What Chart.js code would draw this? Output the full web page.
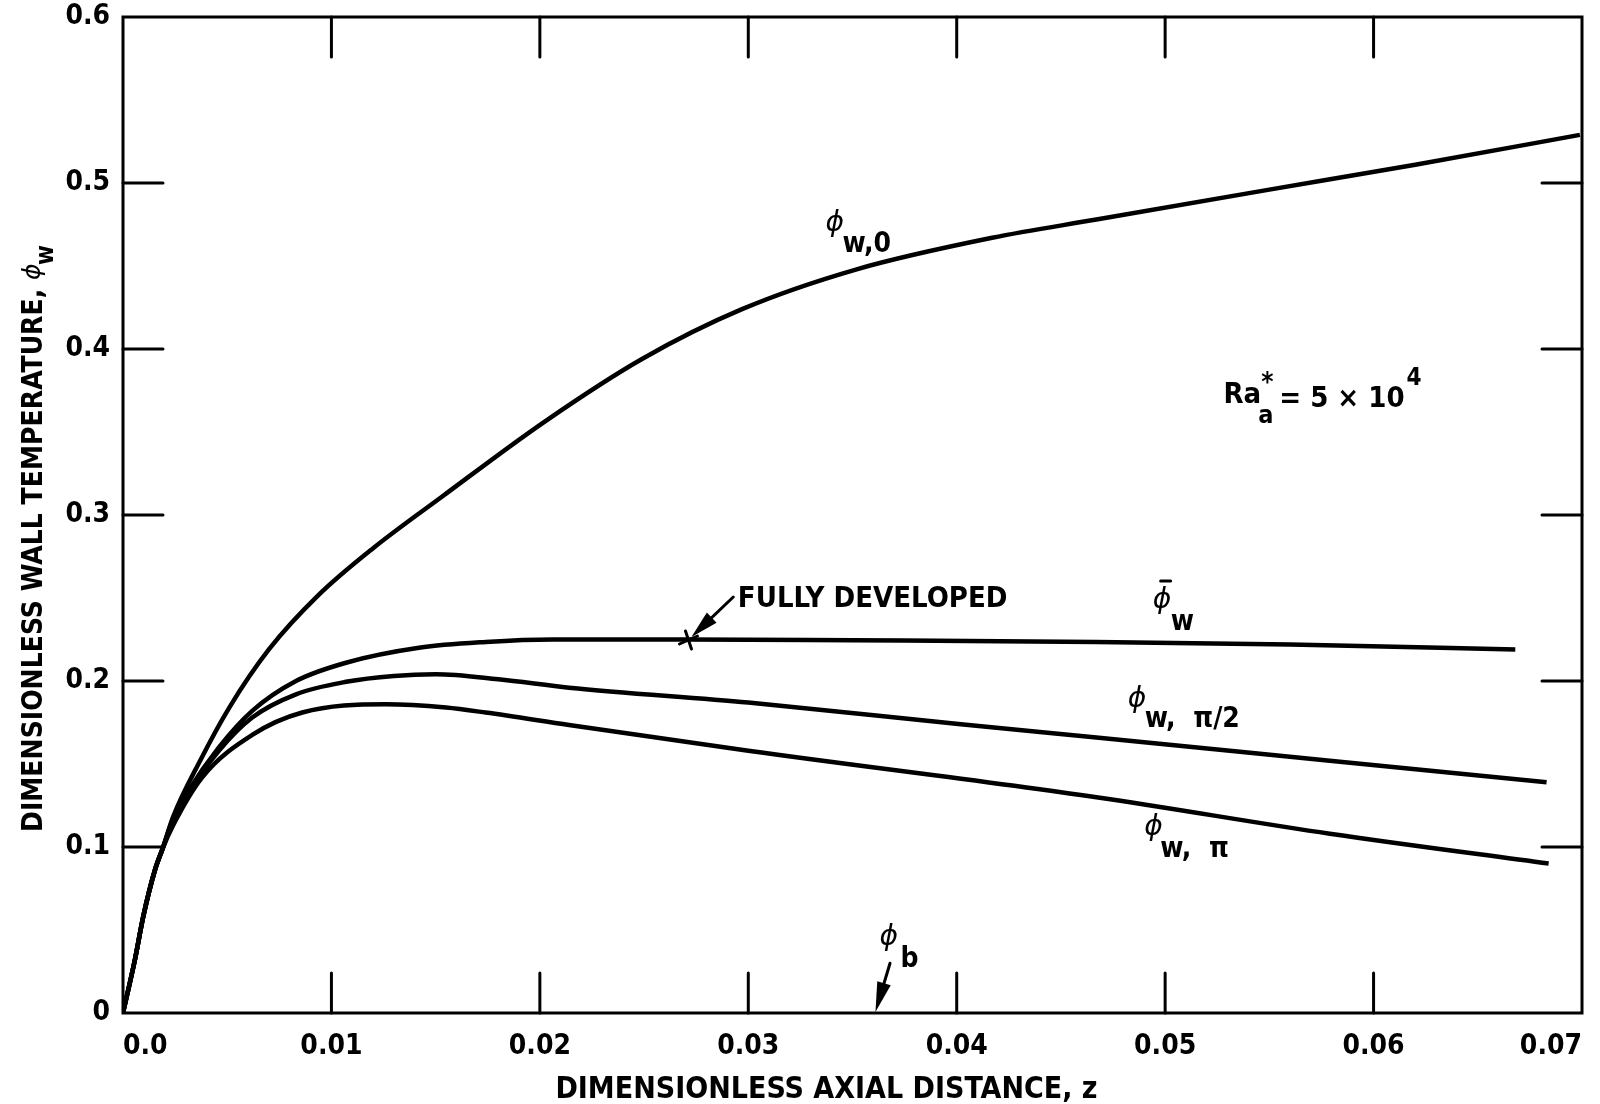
<!DOCTYPE html>
<html>
<head>
<meta charset="utf-8">
<script src="https://cdn.jsdelivr.net/npm/chart.js@4.4.1/dist/chart.umd.min.js"></script>
<style>
  html, body { margin: 0; padding: 0; background: #fff; }
  #wrap { width: 1600px; height: 1104px; }
</style>
</head>
<body>
<div id="wrap"><canvas id="chart" width="1600" height="1104"></canvas></div>
<script>
// values (z, phi)
var zPhi0 = [0, 0.00057, 0.00097, 0.00153, 0.0019, 0.0024, 0.0037, 0.0051, 0.0070, 0.0094, 0.0120, 0.0153, 0.0202, 0.0249, 0.0297, 0.0352, 0.0417, 0.0467, 0.0550, 0.0620, 0.0699];
var phi0 = [0, 0.032, 0.058, 0.086, 0.099, 0.118, 0.152, 0.184, 0.219, 0.252, 0.280, 0.311, 0.356, 0.394, 0.424, 0.448, 0.467, 0.478, 0.496, 0.511, 0.529];

var zPhiMean = [0, 0.00057, 0.00097, 0.00153, 0.0019, 0.0024, 0.0031, 0.0046, 0.0062, 0.0083, 0.0107, 0.0142, 0.0174, 0.0206, 0.0271, 0.0350, 0.0467, 0.0560, 0.0668];
var phiMean = [0, 0.032, 0.058, 0.086, 0.099, 0.117, 0.133, 0.160, 0.182, 0.200, 0.211, 0.220, 0.2235, 0.225, 0.225, 0.2245, 0.2235, 0.222, 0.219];

var zPhiHalfPi = [0, 0.00057, 0.00097, 0.00153, 0.0019, 0.0024, 0.0031, 0.0046, 0.0062, 0.0083, 0.0107, 0.0130, 0.0150, 0.0180, 0.0214, 0.0300, 0.0402, 0.0467, 0.0579, 0.0683];
var phiHalfPi = [0, 0.032, 0.058, 0.086, 0.099, 0.116, 0.132, 0.158, 0.178, 0.192, 0.1995, 0.203, 0.204, 0.201, 0.196, 0.187, 0.174, 0.166, 0.152, 0.139];

var zPhiPi = [0, 0.00057, 0.00097, 0.00153, 0.0019, 0.0024, 0.0038, 0.0062, 0.0086, 0.0126, 0.0155, 0.0174, 0.0214, 0.0300, 0.0467, 0.0579, 0.0684];
var phiPi = [0, 0.032, 0.058, 0.086, 0.099, 0.113, 0.142, 0.1675, 0.181, 0.186, 0.184, 0.181, 0.1735, 0.158, 0.130, 0.108, 0.090];

var xTickLabels = ['0.0', '0.01', '0.02', '0.03', '0.04', '0.05', '0.06', '0.07'];
var yTickLabels = ['0', '0.1', '0.2', '0.3', '0.4', '0.5', '0.6'];
var xTickMarks = [0.01, 0.02, 0.03, 0.04, 0.05, 0.06];
var yTickMarks = [0.1, 0.2, 0.3, 0.4, 0.5];

// where the notes sit, in data units
var fullyDevelopedAt = { z: 0.02713, phi: 0.2247 };
var bulkArrowAt = { z: 0.0361, phi: 0.0006 };

var FAMILY = '"DejaVu Sans Condensed", "DejaVu Sans", sans-serif';
function bold(n) { return 'bold ' + n + 'px ' + FAMILY; }
function greek(n) { return 'italic ' + n + 'px "DejaVu Sans", sans-serif'; }

function pairs(xs, ys) {
  return xs.map(function(x, i) { return { x: x, y: ys[i] }; });
}

function curve(xs, ys) {
  return {
    data: pairs(xs, ys),
    showLine: true,
    borderColor: '#000',
    borderWidth: 4.5,
    pointRadius: 0,
    cubicInterpolationMode: 'monotone',
    fill: false
  };
}

function arrow(c, x1, y1, x2, y2, head, half) {
  var ang = Math.atan2(y2 - y1, x2 - x1);
  c.beginPath();
  c.moveTo(x1, y1);
  c.lineTo(x2 - Math.cos(ang) * head * 0.6, y2 - Math.sin(ang) * head * 0.6);
  c.stroke();
  c.beginPath();
  c.moveTo(x2, y2);
  c.lineTo(x2 - Math.cos(ang) * head - Math.sin(ang) * half, y2 - Math.sin(ang) * head + Math.cos(ang) * half);
  c.lineTo(x2 - Math.cos(ang) * head + Math.sin(ang) * half, y2 - Math.sin(ang) * head - Math.cos(ang) * half);
  c.closePath();
  c.fill();
}

var paper = {
  id: 'paper',
  afterDraw: function(chart) {
    var c = chart.ctx, a = chart.chartArea;
    var xs = chart.scales.x, ys = chart.scales.y;
    function px(z) { return xs.getPixelForValue(z); }
    function py(v) { return ys.getPixelForValue(v); }
    function seg(x1, y1, x2, y2) { c.beginPath(); c.moveTo(x1, y1); c.lineTo(x2, y2); c.stroke(); }
    function txt(s, x, y, font) { c.font = font; c.fillText(s, x, y); return c.measureText(s).width; }

    c.save();
    c.strokeStyle = '#000';
    c.fillStyle = '#000';
    c.lineCap = 'round';
    c.textBaseline = 'alphabetic';
    c.textAlign = 'left';

    // frame and inward ticks on all four sides
    c.lineWidth = 3;
    c.strokeRect(a.left, a.top, a.right - a.left, a.bottom - a.top);
    var len = 40;
    xTickMarks.forEach(function(z) {
      var x = px(z);
      seg(x, a.bottom, x, a.bottom - len);
      seg(x, a.top, x, a.top + len);
    });
    yTickMarks.forEach(function(v) {
      var y = py(v);
      seg(a.left, y, a.left + len, y);
      seg(a.right, y, a.right - len, y);
    });

    // axis titles
    c.font = bold(30);
    c.textAlign = 'center';
    c.fillText('DIMENSIONLESS AXIAL DISTANCE, z', (a.left + a.right) / 2 - 26, a.bottom + 85);
    c.textAlign = 'left';
    c.save();
    c.translate(42, 832);
    c.rotate(-Math.PI / 2);
    var w = txt('DIMENSIONLESS WALL TEMPERATURE, ', 0, 0, bold(28));
    txt('\u03d5', w, -2, greek(25));
    txt('w', w + 15, 11, bold(24));
    c.restore();

    // curve labels: phi glyph, then subscript
    var x, y;
    x = px(0.0337); y = py(0.468);
    txt('\u03d5', x, y - 5, greek(28));
    txt('w,0', x + 17, y + 16, bold(28));

    x = px(0.0494); y = py(0.241);
    txt('\u03d5', x, y - 5, greek(28));
    c.lineWidth = 3;
    seg(x + 8, y - 32, x + 18, y - 32);
    txt('w', x + 18, y + 17, bold(28));

    x = px(0.0482); y = py(0.1813);
    txt('\u03d5', x, y - 5, greek(28));
    txt('w,  \u03c0/2', x + 17, y + 15, bold(28));

    x = px(0.0490); y = py(0.1042);
    txt('\u03d5', x, y - 5, greek(28));
    txt('w,  \u03c0', x + 16, y + 17, bold(28));

    // Rayleigh number note
    x = px(0.0528); y = py(0.3675);
    w = txt('Ra', x, y, bold(29));
    txt('a', x + w - 3, y + 20, bold(25));
    txt('*', x + w, y - 12, bold(26));
    var w2 = txt('= 5 \u00d7 10', x + w + 18, y + 4, bold(29));
    txt('4', x + w + 18 + w2 + 2, y - 18, bold(24));

    // fully developed point
    var fx = px(fullyDevelopedAt.z), fy = py(fullyDevelopedAt.phi);
    txt('FULLY DEVELOPED', px(0.0295), py(0.2446), bold(29));
    c.lineWidth = 3;
    arrow(c, px(0.02928), py(0.2506), fx + 3, fy - 3, 28, 7);
    seg(fx - 9, fy + 4, fx + 9, fy - 4);
    seg(fx - 3, fy - 9, fx + 3, fy + 9);

    // bulk temperature arrow
    var bx = px(bulkArrowAt.z), by = py(bulkArrowAt.phi);
    x = px(0.0363); y = py(0.038);
    txt('\u03d5', x, y - 5, greek(28));
    txt('b', x + 21, y + 17, bold(28));
    arrow(c, px(0.0368), py(0.030), bx, by, 30, 7);

    c.restore();
  }
};

var ctx = document.getElementById('chart').getContext('2d');
var chart = new Chart(ctx, {
  type: 'scatter',
  data: {
    datasets: [
      curve(zPhi0, phi0),
      curve(zPhiMean, phiMean),
      curve(zPhiHalfPi, phiHalfPi),
      curve(zPhiPi, phiPi)
    ]
  },
  options: {
    responsive: false,
    animation: false,
    events: [],
    layout: { padding: { left: 0, top: 17, right: 18, bottom: 0 } },
    plugins: {
      legend: { display: false },
      tooltip: { enabled: false }
    },
    scales: {
      x: {
        type: 'linear',
        min: 0,
        max: 0.07,
        afterFit: function(s) { s.height = 91; s.paddingLeft = 0; s.paddingRight = 0; },
        grid: { display: false, drawTicks: false },
        border: { display: false },
        ticks: {
          stepSize: 0.01,
          align: 'inner',
          padding: 17,
          color: '#000',
          font: { family: FAMILY, size: 28, weight: 'bold' },
          callback: function(v, i) { return xTickLabels[i]; }
        }
      },
      y: {
        type: 'linear',
        min: 0,
        max: 0.6,
        afterFit: function(s) { s.width = 123; s.paddingTop = 0; s.paddingBottom = 0; },
        grid: { display: false, drawTicks: false },
        border: { display: false },
        ticks: {
          stepSize: 0.1,
          padding: 13,
          color: '#000',
          font: { family: FAMILY, size: 28, weight: 'bold' },
          callback: function(v, i) { return yTickLabels[i]; }
        }
      }
    }
  },
  plugins: [paper]
});
</script>
</body>
</html>
